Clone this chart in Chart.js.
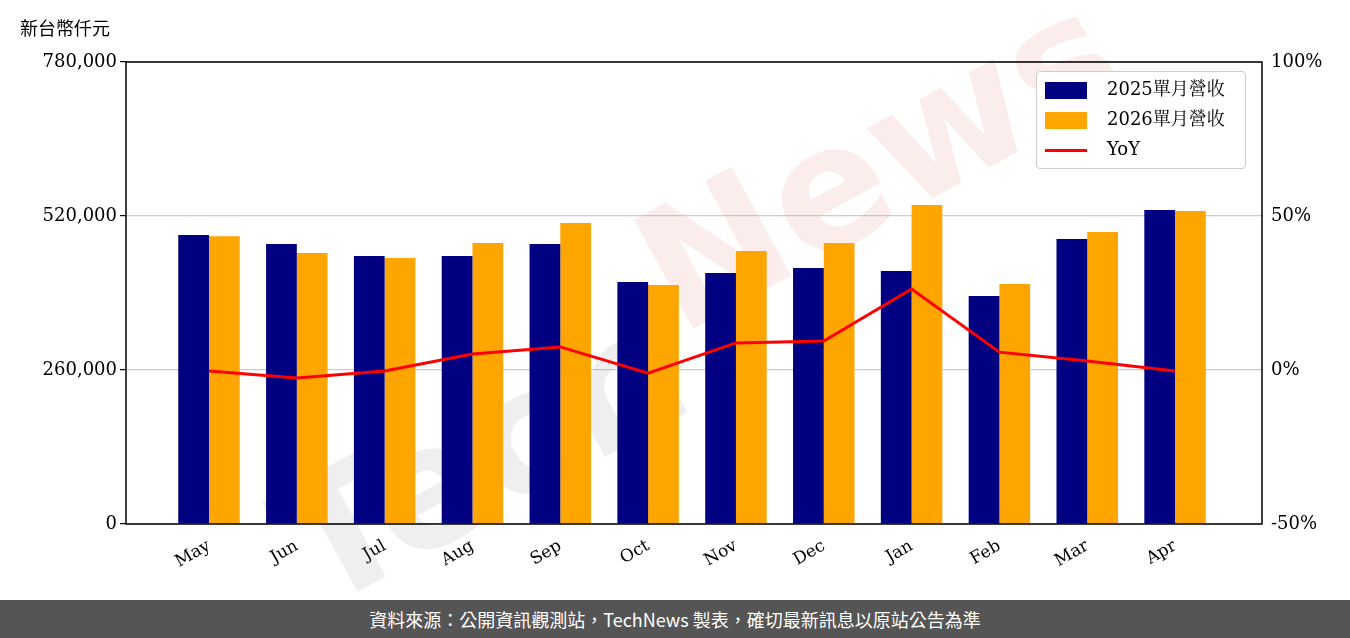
<!DOCTYPE html>
<html><head><meta charset="utf-8">
<script src="https://cdn.jsdelivr.net/npm/chart.js@4"></script>
<style>
body{margin:0;width:1350px;height:638px;background:#fff;position:relative;overflow:hidden;font-family:"Noto Sans CJK TC","Noto Sans",sans-serif}
#wrap{position:absolute;left:0;top:0;width:1350px;height:600px}
#foot{position:absolute;left:0;top:600px;width:1350px;height:38px;background:#555;color:#fff;font-size:18px;line-height:38px;text-align:center}
#unit{position:absolute;left:20px;top:14px;font-size:18px;color:#000}
#legend{position:absolute;left:1036px;top:71px;width:208px;height:96px;border:1px solid #ccc;border-radius:4px;background:rgba(255,255,255,0.85);font-size:18px;font-family:"DejaVu Serif","Noto Serif CJK TC","Noto Sans CJK TC",serif}
.li{position:absolute;left:8px;height:24px;line-height:24px}
.sw{display:inline-block;width:42px;height:17px;vertical-align:middle;margin-right:20px}
</style></head><body>
<div id="wrap"><canvas id="c" width="1350" height="600"></canvas></div>
<div id="unit">新台幣仟元</div>
<div id="legend">
<div class="li" style="top:5px"><span class="sw" style="background:#000080"></span>2025單月營收</div>
<div class="li" style="top:35px"><span class="sw" style="background:#FFA500"></span>2026單月營收</div>
<div class="li" style="top:65px"><span class="sw" style="height:3px;background:#f00"></span>YoY</div>
</div>
<div id="foot">資料來源：公開資訊觀測站，TechNews 製表，確切最新訊息以原站公告為準</div>
<script>
const months=["May","Jun","Jul","Aug","Sep","Oct","Nov","Dec","Jan","Feb","Mar","Apr"];
const rev2025=[488000,472700,452500,452500,472700,408600,423800,432200,427100,384900,481200,530100];
const rev2026=[486000,457500,449100,474400,508200,403500,460900,474400,538600,405200,493000,528400];
const yoy=[-0.3,-2.6,-0.3,5.2,7.5,-1.0,8.8,9.4,26.3,5.8,2.9,-0.3];
const leftTicks=[0,260000,520000,780000];
const rightTicks=[-50,0,50,100];
const pts=a=>a.map((v,i)=>({x:i,y:v}));
const border={id:'bd',afterDraw(c){const a=c.chartArea,x=c.ctx;x.save();x.strokeStyle='#000';x.lineWidth=1.5;x.strokeRect(a.left,a.top,a.right-a.left,a.bottom-a.top);x.restore();}};
const wm={id:'wm',beforeDatasetsDraw(c){const x=c.ctx;x.save();x.translate(680,320);x.rotate(-0.5);x.font='bold 170px "DejaVu Sans"';x.textAlign='center';x.textBaseline='middle';x.fillStyle='rgba(120,120,120,0.12)';x.fillText('Tech',-240,40);x.fillStyle='rgba(230,80,80,0.10)';x.fillText('News',250,-30);x.restore();}};
const serif='"DejaVu Serif", serif';
new Chart(document.getElementById('c'),{
data:{datasets:[
{type:'line',data:pts(yoy),yAxisID:'y1',borderColor:'#f00',backgroundColor:'#f00',borderWidth:3,pointRadius:0,tension:0,order:0},
{type:'bar',data:pts(rev2025),yAxisID:'y',backgroundColor:'#000080',barPercentage:1,categoryPercentage:0.7,order:1},
{type:'bar',data:pts(rev2026),yAxisID:'y',backgroundColor:'#FFA500',barPercentage:1,categoryPercentage:0.7,order:1}
]},
options:{responsive:false,animation:false,layout:{padding:{top:62,left:0,right:0,bottom:0}},
plugins:{legend:{display:false},tooltip:{enabled:false}},
scales:{
x:{type:'linear',offset:false,min:-0.945,max:11.99,grid:{display:false},border:{display:false},
 afterBuildTicks(s){s.ticks=months.map((m,i)=>({value:i}));},
 afterFit(s){s.height=76;},ticks:{color:'#000',font:{family:serif,size:17},maxRotation:30,minRotation:30,padding:4,autoSkip:false,callback:v=>months[v]}},
y:{position:'left',min:0,max:780000,afterFit(s){s.width=126;},afterBuildTicks(s){s.ticks=leftTicks.map(v=>({value:v}));},
 grid:{color:'#ccc',lineWidth:1.2,drawTicks:true,tickLength:6,tickColor:'#000'},border:{display:false},
 ticks:{color:'#000',font:{family:serif,size:18},callback:v=>v.toLocaleString('en-US')}},
y1:{position:'right',min:-50,max:100,afterFit(s){s.width=88;},afterBuildTicks(s){s.ticks=rightTicks.map(v=>({value:v}));},
 grid:{display:false,drawOnChartArea:false,tickLength:6,tickColor:'#000'},border:{display:false},
 ticks:{color:'#000',font:{family:serif,size:18},callback:v=>v+'%'}}
}},plugins:[border,wm]});
</script></body></html>
